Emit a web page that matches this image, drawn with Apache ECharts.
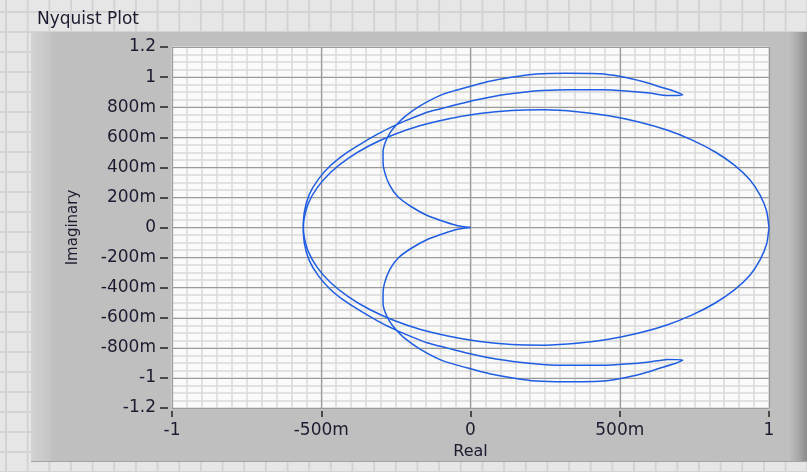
<!DOCTYPE html>
<html><head><meta charset="utf-8">
<script src="https://cdn.jsdelivr.net/npm/echarts@6/dist/echarts.min.js"></script>
<style>
html,body{margin:0;padding:0;width:807px;height:472px;overflow:hidden;}
body{background-color:#e6e6e6;
 background-image:linear-gradient(to right,#d3d3d3 2px,transparent 2px),linear-gradient(to bottom,#d3d3d3 2px,transparent 2px);
 background-size:21.67px 20px;background-position:5px 11px;position:relative;}
#frame{position:absolute;left:31px;top:32px;width:776px;height:430px;
 background:linear-gradient(to right,#d2d2d2 0,#c6c6c6 18px,#bfbfbf 22px,#bfbfbf calc(100% - 18px),#a9a9a9 calc(100% - 9px),#8a8a8a 100%);
 border-bottom:1px solid #a4a4a4;box-sizing:border-box;}
#plotbg{position:absolute;left:172px;top:47px;width:597px;height:361px;background:#fafafa;}
#chart{position:absolute;left:0;top:0;width:807px;height:472px;}
</style></head>
<body>
<div id="frame"></div>
<div id="plotbg"></div>
<div id="chart"></div>
<script>
// Tick labels
const xTickValues = [-1, -0.5, 0, 0.5, 1];
const xTickLabels = ['-1', '-500m', '0', '500m', '1'];
const yTickValues = [-1.2, -1, -0.8, -0.6, -0.4, -0.2, 0, 0.2, 0.4, 0.6, 0.8, 1, 1.2];
const yTickLabels = ['-1.2', '-1', '-800m', '-600m', '-400m', '-200m', '0', '200m', '400m', '600m', '800m', '1', '1.2'];

// Positive-frequency branch: starts at (1,0), lower big loop, then upper loops into the origin
const posRe = [1.0, 0.992, 0.97, 0.936, 0.885, 0.82, 0.743, 0.658, 0.564, 0.463, 0.357, 0.247, 0.138, 0.031, -0.072, -0.17, -0.26, -0.341, -0.411, -0.469, -0.513, -0.543, -0.558, -0.56,
  -0.556, -0.54, -0.51, -0.47, -0.42, -0.366, -0.31, -0.26, -0.221, -0.143, -0.076, 0.013, 0.086, 0.164, 0.242, 0.331, 0.443, 0.521, 0.599, 0.66, 0.711,
  0.688, 0.633, 0.577, 0.499, 0.432, 0.32, 0.22, 0.142, 0.064, 0.013, -0.087, -0.165, -0.221, -0.254, -0.271, -0.285, -0.293, -0.293, -0.288, -0.271, -0.243, -0.198, -0.143, -0.087, -0.043, 0.0];
const posIm = [0, -0.11, -0.215, -0.317, -0.413, -0.502, -0.581, -0.648, -0.702, -0.743, -0.77, -0.782, -0.778, -0.758, -0.723, -0.676, -0.615, -0.542, -0.458, -0.366, -0.267, -0.162, -0.054, 0,
  0.11, 0.22, 0.32, 0.41, 0.49, 0.558, 0.622, 0.672, 0.707, 0.768, 0.802, 0.846, 0.875, 0.896, 0.91, 0.916, 0.916, 0.908, 0.894, 0.877, 0.881,
  0.903, 0.936, 0.97, 1.005, 1.022, 1.025, 1.02, 1.0, 0.972, 0.946, 0.89, 0.813, 0.735, 0.669, 0.624, 0.569, 0.503, 0.437, 0.37, 0.282, 0.204, 0.138, 0.078, 0.038, 0.012, 0];

// Negative-frequency branch: starts at (1,0), upper big loop, then lower loops into the origin
const negRe = [1.0, 0.992, 0.97, 0.936, 0.885, 0.82, 0.743, 0.658, 0.564, 0.463, 0.357, 0.247, 0.138, 0.031, -0.072, -0.17, -0.26, -0.341, -0.411, -0.469, -0.513, -0.543, -0.558, -0.56,
  -0.556, -0.54, -0.51, -0.47, -0.42, -0.366, -0.31, -0.26, -0.221, -0.143, -0.076, 0.013, 0.086, 0.164, 0.242, 0.331, 0.443, 0.521, 0.599, 0.66, 0.711,
  0.688, 0.633, 0.577, 0.499, 0.432, 0.32, 0.22, 0.142, 0.064, 0.013, -0.087, -0.165, -0.221, -0.254, -0.271, -0.285, -0.293, -0.293, -0.288, -0.271, -0.243, -0.198, -0.143, -0.087, -0.043, 0.0];
const negIm = [0, 0.11, 0.215, 0.317, 0.413, 0.502, 0.581, 0.648, 0.702, 0.743, 0.77, 0.782, 0.778, 0.758, 0.723, 0.676, 0.615, 0.542, 0.458, 0.366, 0.267, 0.162, 0.054, 0,
  -0.11, -0.22, -0.32, -0.41, -0.49, -0.558, -0.622, -0.672, -0.707, -0.768, -0.802, -0.846, -0.875, -0.896, -0.91, -0.916, -0.916, -0.908, -0.894, -0.877, -0.881,
  -0.903, -0.936, -0.97, -1.005, -1.022, -1.025, -1.02, -1.0, -0.972, -0.946, -0.89, -0.813, -0.735, -0.669, -0.624, -0.569, -0.503, -0.437, -0.37, -0.282, -0.204, -0.138, -0.078, -0.038, -0.012, 0];

function pairs(re, im) { return re.map((r, i) => [r, im[i]]); }
function lookup(vals, labels) {
  return function (v) {
    for (let i = 0; i < vals.length; i++) if (Math.abs(vals[i] - v) < 1e-6) return labels[i];
    return '';
  };
}

const FONT = 'DejaVu Sans';
const TXT = '#1c1c30';
const hidden = { axisLine: { show: false, onZero: false }, axisTick: { show: false }, axisLabel: { show: false } };
const chart = echarts.init(document.getElementById('chart'), null, { renderer: 'canvas' });
chart.setOption({
  animation: false,
  backgroundColor: 'transparent',
  title: {
    text: 'Nyquist Plot', left: 32, top: 6,
    textStyle: { fontFamily: FONT, fontSize: 17, fontWeight: 'normal', color: TXT }
  },
  grid: { left: 172, right: 38, top: 47, bottom: 64, show: false },
  xAxis: [{
    type: 'value', min: -1, max: 1, interval: 0.5, z: 3,
    name: 'Real', nameLocation: 'middle', nameGap: 33,
    nameTextStyle: { fontFamily: FONT, fontSize: 16, color: TXT },
    offset: 3,
    axisLine: { show: false, onZero: false },
    axisTick: { show: true, length: 6, lineStyle: { color: '#222', width: 1.5 } },
    axisLabel: { fontFamily: FONT, fontSize: 17, color: TXT, margin: 11, formatter: lookup(xTickValues, xTickLabels) },
    splitLine: { show: true, lineStyle: { color: '#9a9a9a', width: 1.2 } }
  }, Object.assign({
    type: 'value', min: -1, max: 1, interval: 0.05, z: 1,
    splitLine: { show: true, lineStyle: { color: '#d8d8d8', width: 1.5 } }
  }, hidden)],
  yAxis: [{
    type: 'value', min: -1.2, max: 1.2, interval: 0.2, z: 3,
    name: 'Imaginary', nameLocation: 'middle', nameGap: 87, nameRotate: 90,
    nameTextStyle: { fontFamily: FONT, fontSize: 15, color: TXT },
    offset: 4,
    axisLine: { show: false, onZero: false },
    axisTick: { show: true, length: 8, lineStyle: { color: '#222', width: 1.5 } },
    axisLabel: { fontFamily: FONT, fontSize: 17, color: TXT, margin: 12, formatter: lookup(yTickValues, yTickLabels) },
    splitLine: { show: true, lineStyle: { color: '#9a9a9a', width: 1.2 } }
  }, Object.assign({
    type: 'value', min: -1.2, max: 1.2, interval: 0.05, z: 1,
    splitLine: { show: true, lineStyle: { color: '#d8d8d8', width: 1.5 } }
  }, hidden)],
  series: [
    { name: 'w>0', type: 'line', data: pairs(posRe, posIm), showSymbol: false, smooth: 0.2,
      lineStyle: { color: '#1f5de3', width: 1.5 }, z: 5 },
    { name: 'w<0', type: 'line', data: pairs(negRe, negIm), showSymbol: false, smooth: 0.2,
      lineStyle: { color: '#1f5de3', width: 1.5 }, z: 5 }
  ]
});
</script>
</body></html>
